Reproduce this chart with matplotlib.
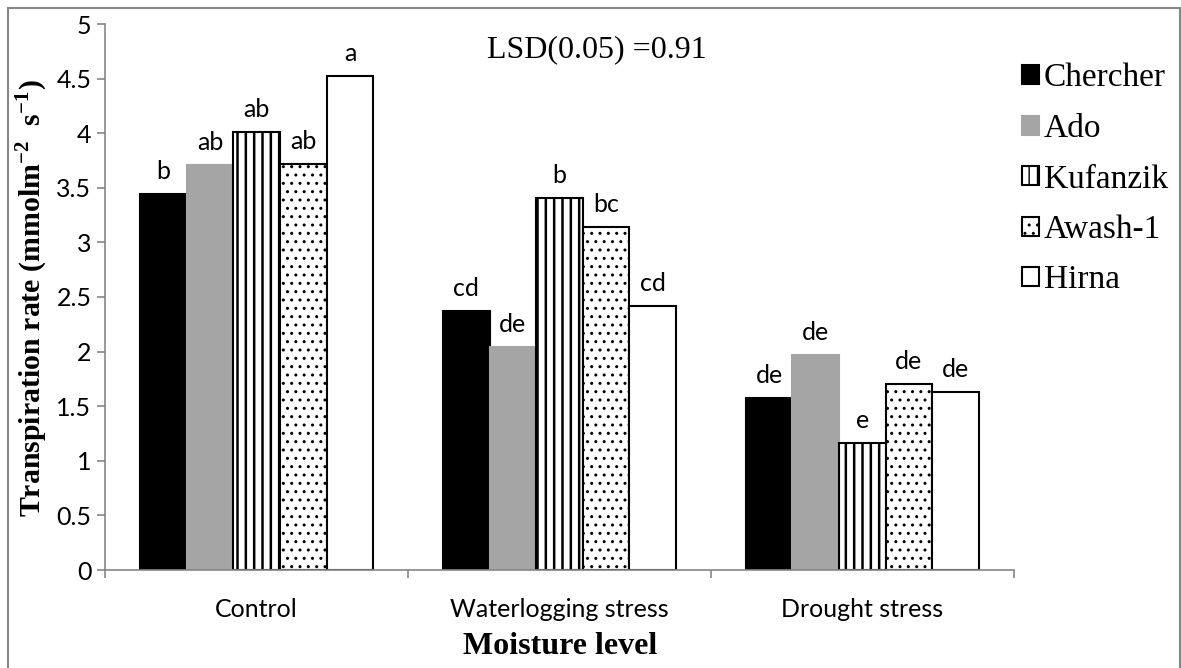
import matplotlib
matplotlib.use("Agg")
import matplotlib.pyplot as plt
import numpy as np
from matplotlib.patches import Patch, Rectangle
from matplotlib.font_manager import FontProperties

categories = ["Control", "Waterlogging stress", "Drought stress"]
varieties = ["Chercher", "Ado", "Kufanzik", "Awash-1", "Hirna"]
chercher = [3.44, 2.37, 1.575]
ado = [3.71, 2.04, 1.97]
kufanzik = [4.01, 3.41, 1.16]
awash = [3.72, 3.14, 1.70]
hirna = [4.52, 2.42, 1.63]
letters_chercher = ["b", "cd", "de"]
letters_ado = ["ab", "de", "de"]
letters_kufanzik = ["ab", "b", "e"]
letters_awash = ["ab", "bc", "de"]
letters_hirna = ["a", "cd", "de"]
yticks = [0, 0.5, 1, 1.5, 2, 2.5, 3, 3.5, 4, 4.5, 5]
ytick_labels = ["0", "0.5", "1", "1.5", "2", "2.5", "3", "3.5", "4", "4.5", "5"]

series = [chercher, ado, kufanzik, awash, hirna]
letters = [letters_chercher, letters_ado, letters_kufanzik, letters_awash, letters_hirna]
styles = [
    dict(facecolor="black", edgecolor="black", hatch=None, hlw=1.0),
    dict(facecolor="#a5a5a5", edgecolor="#a5a5a5", hatch=None, hlw=1.0),
    dict(facecolor="white", edgecolor="black", hatch="||", hlw=1.8),
    dict(facecolor="white", edgecolor="black", hatch="..", hlw=1.0),
    dict(facecolor="white", edgecolor="black", hatch=None, hlw=1.0),
]

serif = "Liberation Serif"
sans = "Lato"
gray = "#868686"
plt.rcParams["mathtext.fontset"] = "custom"
plt.rcParams["mathtext.rm"] = serif
plt.rcParams["mathtext.bf"] = serif + ":bold"

fig = plt.figure(figsize=(11.81, 6.68), dpi=100)
ax = fig.add_axes([105.3 / 1181, 1 - 570 / 668, (1013.7 - 105.3) / 1181, (570 - 24) / 668])

x = np.arange(len(categories))
w = 0.154
for i, (vals, st, lab) in enumerate(zip(series, styles, letters)):
    plt.rcParams["hatch.linewidth"] = st["hlw"]
    pos = x + (i - 2) * w
    bars = ax.bar(pos, vals, width=w, facecolor=st["facecolor"], edgecolor=st["edgecolor"],
                  hatch=st["hatch"], linewidth=1.5, label=varieties[i], zorder=2)
    for b in bars:
        if hasattr(b, "set_hatch_linewidth"):
            b.set_hatch_linewidth(st["hlw"])
    for b, t in zip(bars, lab):
        ax.annotate(t, (b.get_x() + b.get_width() / 2, b.get_height()),
                    xytext=(0, 8), textcoords="offset points", ha="center", va="bottom",
                    fontsize=18, family=sans)

ax.set_xlim(-0.5, 2.5)
ax.set_ylim(0, 5)
ax.set_yticks(yticks)
ax.set_yticklabels(ytick_labels, fontsize=18, family=sans)
ax.set_xticks(x)
ax.set_xticklabels(categories, fontsize=18, family=sans)
ax.set_xticks([-0.5, 0.5, 1.5, 2.5], minor=True)
ax.tick_params(axis="x", which="major", length=0, pad=20)
ax.tick_params(axis="x", which="minor", length=6, color=gray, width=1.2)
ax.tick_params(axis="y", length=6, color=gray, width=1.2, pad=4)
for s in ["top", "right"]:
    ax.spines[s].set_visible(False)
for s in ["left", "bottom"]:
    ax.spines[s].set_color(gray)
    ax.spines[s].set_linewidth(1.2)

fig.text(32 / 1181, 1 - 298 / 668,
         r"Transpiration rate (mmolm$^{\mathbf{-2}}$  s$^{\mathbf{-1}}$)",
         rotation=90, ha="center", va="center", fontsize=21.5, fontweight="bold", family=serif)
fig.text(560 / 1181, 1 - 647 / 668, "Moisture level", ha="center", va="center",
         fontsize=23, fontweight="bold", family=serif)
fig.text(597 / 1181, 1 - 50 / 668, "LSD(0.05) =0.91", ha="center", va="center",
         fontsize=23, family=serif)

plt.rcParams["hatch.linewidth"] = 1.0
handles = []
for st in styles:
    p = Patch(facecolor=st["facecolor"], edgecolor=st["edgecolor"], hatch=st["hatch"], linewidth=1.5)
    handles.append(p)
fig.legend(handles, varieties, loc="upper left", bbox_to_anchor=(1022 / 1181, 1 - 63 / 668),
           frameon=False, prop=FontProperties(family=serif, size=24), handlelength=0.5,
           handleheight=0.5, handletextpad=0.15, labelspacing=0.6, borderpad=0, borderaxespad=0)

fig.patches.append(Rectangle((8 / 1181, -0.05), (1180 - 8) / 1181, 1.05 - 8 / 668,
                             transform=fig.transFigure, fill=False, edgecolor=gray, linewidth=1.5))

fig.savefig("out.png", dpi=100)
